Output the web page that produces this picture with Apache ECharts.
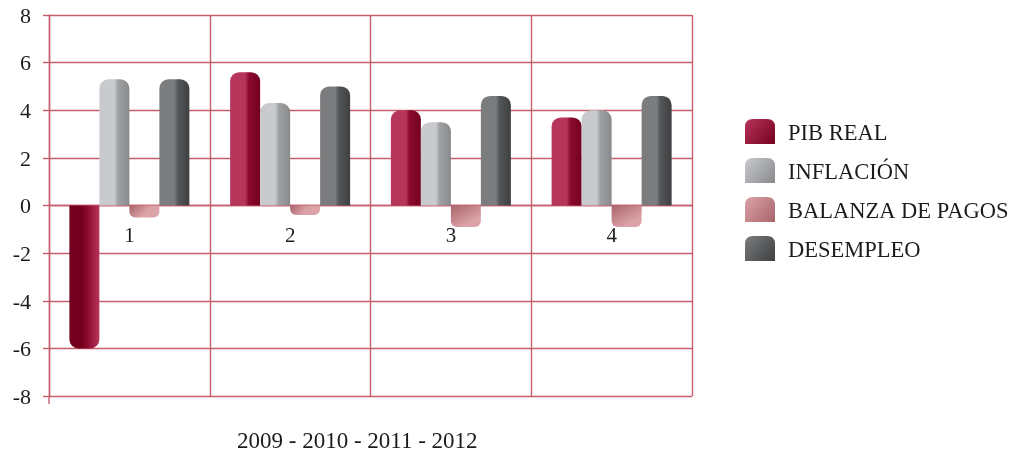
<!DOCTYPE html>
<html>
<head>
<meta charset="utf-8">
<script src="https://cdn.jsdelivr.net/npm/echarts@6/dist/echarts.min.js"></script>
<style>
  html, body { margin: 0; padding: 0; background: #ffffff; }
  #chart { width: 1015px; height: 453px; }
</style>
</head>
<body>
<div id="chart"></div>
<script>
// Quarter labels and indicator values
const categories = ['1', '2', '3', '4'];
const pibReal = [-6.0, 5.6, 4.0, 3.7];
const inflacion = [5.3, 4.3, 3.5, 4.0];
const balanzaPagos = [-0.5, -0.4, -0.9, -0.9];
const desempleo = [5.3, 5.0, 4.6, 4.6];
const seriesNames = ['PIB REAL', 'INFLACIÓN', 'BALANZA DE PAGOS', 'DESEMPLEO'];
const yTicks = [-8, -6, -4, -2, 0, 2, 4, 6, 8];
const axisTitle = '2009 - 2010 - 2011 - 2012';

const FONT = '"Liberation Serif", "DejaVu Serif", serif';
const TEXT_COLOR = '#1f1b1c';
const GRID_COLOR = '#c65e6c';
const GRID_W = 1.4;

// Plot box
const GRID_TOP = 15, GRID_H = 381;
// Category axis sits on the zero line (middle of the -8..8 range)
const ZERO_OFFSET = -GRID_H / 2;

// Cylinder-like shading: light on the left, dark on the right
function cyl(light, mid, dark, flip) {
  const stops = flip
    ? [{ offset: 0, color: dark }, { offset: 0.42, color: dark }, { offset: 0.6, color: mid }, { offset: 1, color: light }]
    : [{ offset: 0, color: light }, { offset: 0.5, color: light }, { offset: 0.62, color: mid }, { offset: 1, color: dark }];
  return { type: 'linear', x: 0, y: 0, x2: 1, y2: 0, colorStops: stops };
}
function diag(light, dark) {
  return { type: 'linear', x: 0, y: 0, x2: 1, y2: 1,
    colorStops: [{ offset: 0, color: light }, { offset: 1, color: dark }] };
}

const palette = {
  'PIB REAL':         { light: '#b7345a', mid: '#8c0a30', dark: '#74001f' },
  'INFLACIÓN':        { light: '#c9cacd', mid: '#a0a1a3', dark: '#88898b' },
  'BALANZA DE PAGOS': { light: '#dba3a7', mid: '#c38a8f', dark: '#a9646b' },
  'DESEMPLEO':        { light: '#7b7c7e', mid: '#555658', dark: '#3e3f41' }
};

function styledData(values, name) {
  const p = palette[name];
  return values.map(v => {
    const neg = v < 0;
    let color;
    if (name === 'BALANZA DE PAGOS') {
      color = { type: 'linear', x: 0, y: 0, x2: 0.4, y2: 1,
        colorStops: [{ offset: 0, color: p.dark }, { offset: 1, color: p.light }] };
    } else {
      color = cyl(p.light, p.mid, p.dark, neg);
    }
    const r = name === 'BALANZA DE PAGOS' ? 6 : 9;
    return {
      value: v,
      itemStyle: { color: color, borderRadius: neg ? [0, 0, r, r] : [r, r, 0, 0] }
    };
  });
}

const valuesByName = {
  'PIB REAL': pibReal,
  'INFLACIÓN': inflacion,
  'BALANZA DE PAGOS': balanzaPagos,
  'DESEMPLEO': desempleo
};

const chart = echarts.init(document.getElementById('chart'), null, { renderer: 'canvas' });

const option = {
  animation: false,
  backgroundColor: '#ffffff',
  grid: { left: 49, right: 323, top: GRID_TOP, height: GRID_H, containLabel: false },
  legend: {
    orient: 'vertical',
    left: 745,
    top: 119,
    padding: 0,
    itemWidth: 30,
    itemHeight: 25,
    itemGap: 12,
    icon: 'path://M0,8 Q0,0 8,0 L22,0 Q30,0 30,8 L30,25 L0,25 Z',
    formatter: name => '{t|' + name + '}',
    textStyle: {
      fontFamily: FONT, fontSize: 22.5, color: TEXT_COLOR,
      rich: { t: { fontFamily: FONT, fontSize: 22.5, color: TEXT_COLOR, padding: [6, 0, 0, 8] } }
    },
    data: seriesNames.map(n => ({
      name: n,
      itemStyle: { color: diag(palette[n].light, palette[n].dark) }
    }))
  },
  xAxis: {
    type: 'category',
    data: categories,
    position: 'bottom',
    offset: ZERO_OFFSET,
    boundaryGap: true,
    axisLine: { show: true, onZero: false, lineStyle: { color: GRID_COLOR, width: GRID_W } },
    axisTick: { show: false },
    axisLabel: { fontFamily: FONT, fontSize: 21, color: TEXT_COLOR, margin: 20 },
    splitLine: { show: true, lineStyle: { color: GRID_COLOR, width: GRID_W } }
  },
  yAxis: {
    type: 'value',
    min: -8,
    max: 8,
    interval: 2,
    axisLine: { show: true, onZero: false, lineStyle: { color: GRID_COLOR, width: GRID_W } },
    axisTick: { show: true, length: 6, lineStyle: { color: GRID_COLOR, width: GRID_W } },
    axisLabel: {
      margin: 18,
      formatter: v => (yTicks.includes(v) ? '{v|' + v + '}' : ''),
      rich: { v: { fontFamily: FONT, fontSize: 22, color: TEXT_COLOR, padding: [4, 0, 0, 0] } }
    },
    splitLine: { show: true, lineStyle: { color: GRID_COLOR, width: GRID_W } }
  },
  graphic: [
    {
      type: 'text',
      left: 237,
      top: 430,
      style: { text: axisTitle, font: '23px ' + FONT, fill: TEXT_COLOR }
    },
    {
      type: 'line',
      shape: { x1: 49, y1: GRID_TOP + GRID_H, x2: 49, y2: GRID_TOP + GRID_H + 8 },
      style: { stroke: GRID_COLOR, lineWidth: GRID_W }
    }
  ],
  series: seriesNames.map(n => ({
    name: n,
    type: 'bar',
    barWidth: 30,
    barGap: '0%',
    itemStyle: { color: palette[n].light },
    data: styledData(valuesByName[n], n)
  }))
};

chart.setOption(option);
</script>
</body>
</html>
